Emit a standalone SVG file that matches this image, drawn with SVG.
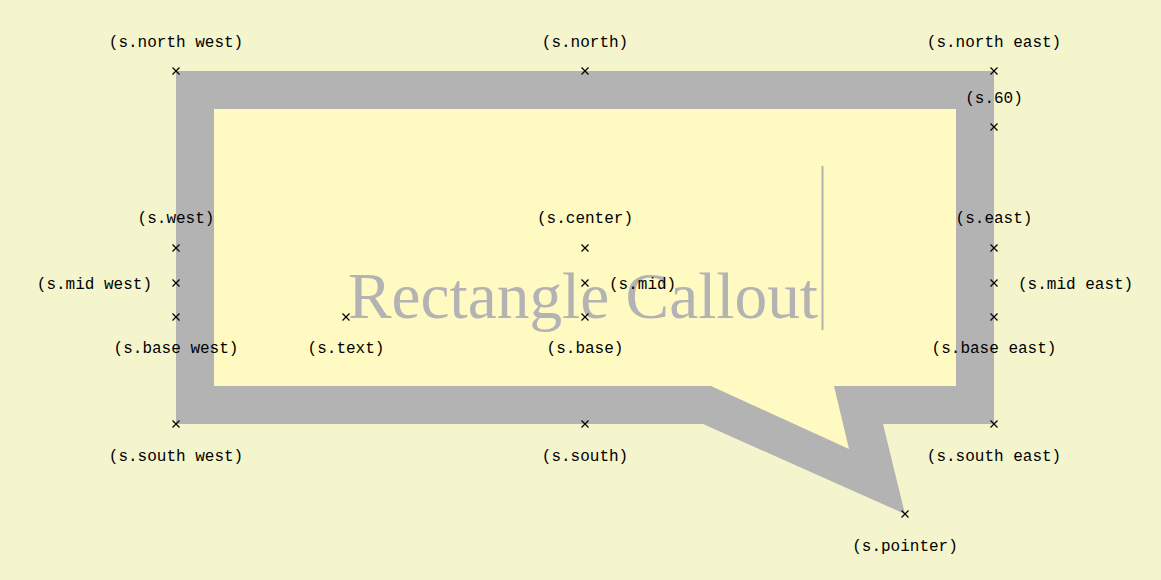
<svg xmlns="http://www.w3.org/2000/svg" width="1161" height="580" viewBox="0 0 1161 580">
<style>
.lbl{font-family:"Liberation Mono","DejaVu Sans Mono",monospace;font-size:16px;fill:#000;text-anchor:middle}
.l{text-anchor:start}
.r{text-anchor:end}
.x{stroke:#000;stroke-width:1.2;fill:none}
</style>
<defs>
<path id="cross" class="x" d="M-3.5,-3.5L3.5,3.5M-3.5,3.5L3.5,-3.5"/>
</defs>
<rect x="0" y="0" width="1161" height="580" fill="#f4f5cd"/>
<g id="callout">
<polygon points="176,71 994,71 994,424 883,424 905,514 703,424 176,424" fill="#b3b3b3"/>
<polygon points="214,109 956,109 956,386 834,386 849,449 711,386 214,386" fill="#fff9c2"/>
<text x="348" y="318" font-family="Liberation Serif,serif" font-size="66" fill="#b3b3b3" textLength="470" lengthAdjust="spacingAndGlyphs">Rectangle Callout</text>
<line x1="822.5" y1="166" x2="822.5" y2="330" stroke="#b3b3b3" stroke-width="2"/>
</g>
<g id="anchors">
<use href="#cross" x="176" y="71"/><use href="#cross" x="585" y="71"/><use href="#cross" x="994" y="71"/>
<use href="#cross" x="994" y="127"/>
<use href="#cross" x="176" y="248"/><use href="#cross" x="585" y="248"/><use href="#cross" x="994" y="248"/>
<use href="#cross" x="176" y="283"/><use href="#cross" x="585" y="283"/><use href="#cross" x="994" y="283"/>
<use href="#cross" x="176" y="317"/><use href="#cross" x="346" y="317"/><use href="#cross" x="585" y="317"/><use href="#cross" x="994" y="317"/>
<use href="#cross" x="176" y="424"/><use href="#cross" x="585" y="424"/><use href="#cross" x="994" y="424"/>
<use href="#cross" x="905" y="514"/>
</g>
<g id="labels">
<text class="lbl" x="176" y="47">(s.north west)</text>
<text class="lbl" x="585" y="47">(s.north)</text>
<text class="lbl" x="994" y="47">(s.north east)</text>
<text class="lbl" x="994" y="103">(s.60)</text>
<text class="lbl" x="176" y="223">(s.west)</text>
<text class="lbl" x="585" y="223">(s.center)</text>
<text class="lbl" x="994" y="223">(s.east)</text>
<text class="lbl r" x="152" y="289">(s.mid west)</text>
<text class="lbl l" x="609" y="289">(s.mid)</text>
<text class="lbl l" x="1018" y="289">(s.mid east)</text>
<text class="lbl" x="176" y="353">(s.base west)</text>
<text class="lbl" x="346" y="353">(s.text)</text>
<text class="lbl" x="585" y="353">(s.base)</text>
<text class="lbl" x="994" y="353">(s.base east)</text>
<text class="lbl" x="176" y="461">(s.south west)</text>
<text class="lbl" x="585" y="461">(s.south)</text>
<text class="lbl" x="994" y="461">(s.south east)</text>
<text class="lbl" x="905" y="551">(s.pointer)</text>
</g>
</svg>
